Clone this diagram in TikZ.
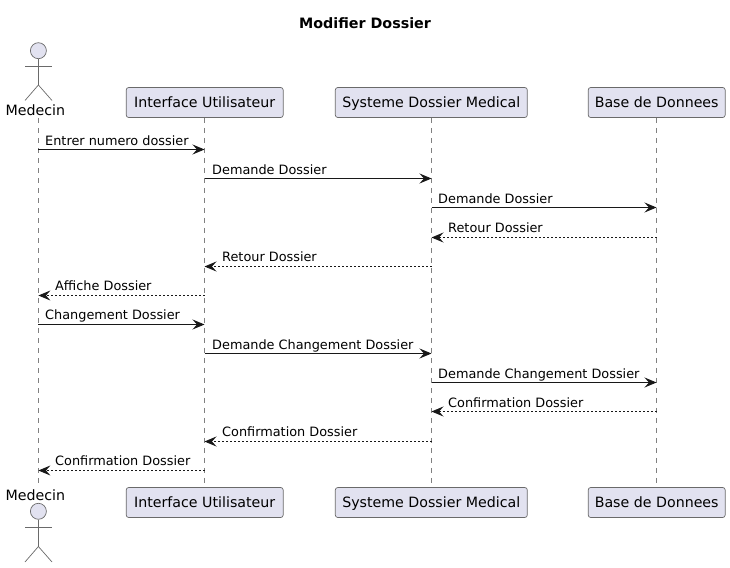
\documentclass[tikz,border=0pt]{standalone}
\usepackage{fontspec}
\setmainfont{DejaVu Sans}
\usetikzlibrary{arrows.meta}
\definecolor{boxfill}{HTML}{E2E2F0}
\definecolor{boxline}{HTML}{6A6A6A}
\definecolor{msgline}{HTML}{181818}
\tikzset{
  partbox/.style={draw=boxline,fill=boxfill,line width=0.7pt,rounded corners=2.5pt,minimum height=30pt,inner sep=0pt,text height=11pt,text depth=2pt,font=\fontsize{14.2}{16}\selectfont},
  actorname/.style={inner sep=0pt,anchor=base,font=\fontsize{14.2}{16}\selectfont},
  actorline/.style={draw=boxline,line width=0.7pt},
  lifeline/.style={draw=boxline!85,line width=0.6pt,dash pattern=on 5pt off 5pt},
  msg/.style={draw=msgline,line width=0.9pt,-{Stealth[length=12pt,width=10pt,inset=4.5pt]}},
  msgback/.style={msg,dash pattern=on 2pt off 2pt},
  msgtext/.style={inner sep=0pt,anchor=base west,font=\fontsize{12.85}{15}\selectfont}
}
\begin{document}
\begin{tikzpicture}[x=1pt,y=-1pt]
  \useasboundingbox (0,0) rectangle (730,567);
  \node [inner sep=0pt,font=\fontsize{14.3}{16}\selectfont\bfseries] (title) at (365,23) {Modifier Dossier};

  % Lifelines
  \coordinate (medT) at (38.4,118);
  \coordinate (medB) at (38.4,484);
  \node [partbox,minimum width=157pt] (iuT) at (204.7,102.5) {Interface Utilisateur};
  \node [partbox,minimum width=157pt] (iuB) at (204.7,502.5) {Interface Utilisateur};
  \node [partbox,minimum width=192pt] (sdmT) at (431.3,102.5) {Systeme Dossier Medical};
  \node [partbox,minimum width=192pt] (sdmB) at (431.3,502.5) {Systeme Dossier Medical};
  \node [partbox,minimum width=137pt] (bddT) at (656.7,102.5) {Base de Donnees};
  \node [partbox,minimum width=137pt] (bddB) at (656.7,502.5) {Base de Donnees};
  \draw [lifeline] (medT) -- (medB);
  \draw [lifeline] (iuT) -- (iuB);
  \draw [lifeline] (sdmT) -- (sdmB);
  \draw [lifeline] (bddT) -- (bddB);

  % Actor on top
  \node [actorname] (medNameT) at (35.3,115) {Medecin};
  \node [circle,draw=boxline,fill=boxfill,line width=0.7pt,minimum size=16pt,inner sep=0pt] (medHeadT) at (38.4,50.7) {};
  \coordinate (medHipT) at (38.4,85);
  \draw [actorline] (medHeadT) -- (medHipT);
  \draw [actorline] (25,66) -- (52,66);
  \draw [actorline] (25,100.5) -- (medHipT) -- (52,100.5);

  % Actor on bottom
  \node [actorname] (medNameB) at (35.3,500) {Medecin};
  \node [circle,draw=boxline,fill=boxfill,line width=0.7pt,minimum size=16pt,inner sep=0pt] (medHeadB) at (38.4,511.3) {};
  \coordinate (medHipB) at (38.4,546.5);
  \draw [actorline] (medHeadB) -- (medHipB);
  \draw [actorline] (25,527.3) -- (52,527.3);
  \draw [actorline] (25,562) -- (medHipB) -- (52,562);

  % Message 1
  \coordinate (m1a) at (38.4,149.5);
  \coordinate (m1b) at (204.5,149.5);
  \draw [msg] (m1a) -- (m1b);
  \node [msgtext] (t1) at (45,145) {Entrer numero dossier};

  % Message 2
  \coordinate (m2a) at (204.5,178.5);
  \coordinate (m2b) at (431.5,178.5);
  \draw [msg] (m2a) -- (m2b);
  \node [msgtext] (t2) at (212,174) {Demande Dossier};

  % Message 3
  \coordinate (m3a) at (431.5,207.5);
  \coordinate (m3b) at (656.5,207.5);
  \draw [msg] (m3a) -- (m3b);
  \node [msgtext] (t3) at (438,203) {Demande Dossier};

  % Message 4
  \coordinate (m4a) at (656.5,237.5);
  \coordinate (m4b) at (431.5,237.5);
  \draw [msgback] (m4a) -- (m4b);
  \node [msgtext] (t4) at (448,232.5) {Retour Dossier};

  % Message 5
  \coordinate (m5a) at (431.5,266.5);
  \coordinate (m5b) at (204.5,266.5);
  \draw [msgback] (m5a) -- (m5b);
  \node [msgtext] (t5) at (222,261.5) {Retour Dossier};

  % Message 6
  \coordinate (m6a) at (204.5,295.5);
  \coordinate (m6b) at (38.4,295.5);
  \draw [msgback] (m6a) -- (m6b);
  \node [msgtext] (t6) at (55,290.5) {Affiche Dossier};

  % Message 7
  \coordinate (m7a) at (38.4,324.5);
  \coordinate (m7b) at (204.5,324.5);
  \draw [msg] (m7a) -- (m7b);
  \node [msgtext] (t7) at (45,319.5) {Changement Dossier};

  % Message 8
  \coordinate (m8a) at (204.5,353.5);
  \coordinate (m8b) at (431.5,353.5);
  \draw [msg] (m8a) -- (m8b);
  \node [msgtext] (t8) at (212,349) {Demande Changement Dossier};

  % Message 9
  \coordinate (m9a) at (431.5,382.5);
  \coordinate (m9b) at (656.5,382.5);
  \draw [msg] (m9a) -- (m9b);
  \node [msgtext] (t9) at (438,378) {Demande Changement Dossier};

  % Message 10
  \coordinate (m10a) at (656.5,411.5);
  \coordinate (m10b) at (431.5,411.5);
  \draw [msgback] (m10a) -- (m10b);
  \node [msgtext] (t10) at (448,407) {Confirmation Dossier};

  % Message 11
  \coordinate (m11a) at (431.5,441.5);
  \coordinate (m11b) at (204.5,441.5);
  \draw [msgback] (m11a) -- (m11b);
  \node [msgtext] (t11) at (222,436) {Confirmation Dossier};

  % Message 12
  \coordinate (m12a) at (204.5,470.5);
  \coordinate (m12b) at (38.4,470.5);
  \draw [msgback] (m12a) -- (m12b);
  \node [msgtext] (t12) at (55,465) {Confirmation Dossier};
\end{tikzpicture}
\end{document}
